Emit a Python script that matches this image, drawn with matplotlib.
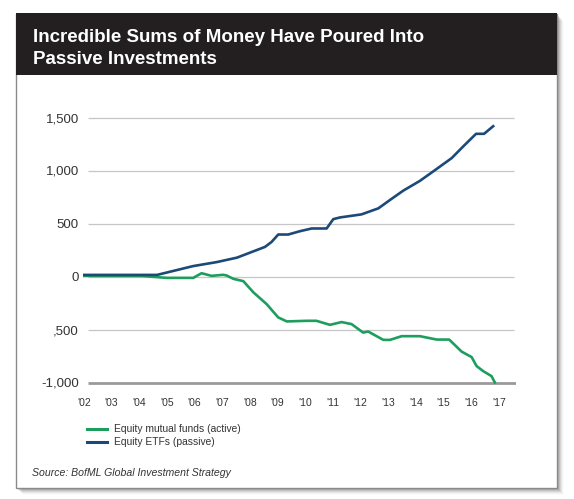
import matplotlib
matplotlib.use("Agg")
import matplotlib.pyplot as plt
from matplotlib.patches import Rectangle
from matplotlib.lines import Line2D

plt.rcParams['font.family'] = ['Liberation Sans', 'DejaVu Sans']

# ---- data ----
title_lines = ["Incredible Sums of Money Have Poured Into", "Passive Investments"]
source_text = "Source: BofML Global Investment Strategy"
series_names = ["Equity mutual funds (active)", "Equity ETFs (passive)"]

mf_years = [2002.0, 2004.1, 2004.99, 2005.95, 2006.25, 2006.61, 2007.03, 2007.15, 2007.4,
            2007.76, 2008.12, 2008.6, 2009.02, 2009.33, 2010.05, 2010.4, 2010.89, 2011.31,
            2011.67, 2012.09, 2012.27, 2012.82, 2013.06, 2013.48, 2014.14, 2014.75, 2015.2,
            2015.65, 2016.01, 2016.19, 2016.43, 2016.73, 2016.85]
mf_vals = [5, 5, -13, -13, 31, 6, 16, 10, -22, -44, -149, -260, -386, -424, -418, -418,
           -456, -430, -449, -529, -519, -598, -598, -563, -563, -595, -595, -709, -760,
           -845, -893, -940, -1000]

etf_years = [2002.0, 2004.64, 2005.94, 2006.8, 2007.53, 2007.9, 2008.54, 2008.78, 2009.02,
             2009.38, 2009.8, 2010.23, 2010.77, 2011.01, 2011.25, 2012.03, 2012.64, 2013.06,
             2013.54, 2014.14, 2014.62, 2015.29, 2015.71, 2016.17, 2016.46, 2016.79]
etf_vals = [15, 15, 98, 136, 178, 215, 279, 326, 396, 396, 427, 453, 453, 541, 557, 586, 643,
            722, 810, 902, 991, 1117, 1228, 1346, 1346, 1418]

y_ticks = [-1000, -500, 0, 500, 1000, 1500]
y_tick_labels = ["-1,000", ",500", "0", "500", "1,000", "1,500"]
x_ticks = list(range(2002, 2018))
x_tick_labels = ["'%02d" % (y % 100) for y in x_ticks]

# ---- styling ----
GREEN = "#1e9e5e"
BLUE = "#1c4a78"
HEADER = "#231f20"
TEXT = "#333333"

W, H = 574, 499
fig = plt.figure(figsize=(W / 100, H / 100), dpi=100)
fig.patch.set_facecolor("white")


def fx(x):
    return x / W


def fy(y):
    return 1 - y / H


def rect(x0, y0, x1, y1, **kw):
    r = Rectangle((fx(x0), fy(y1)), fx(x1) - fx(x0), fy(y0) - fy(y1),
                  transform=fig.transFigure, **kw)
    fig.patches.append(r)
    return r


# card shadow
for i, a in enumerate([0.14, 0.11, 0.09, 0.07, 0.05, 0.03, 0.015]):
    d = i + 1
    rect(15.5 + d, 13.5 + d, 557 + d, 488 + d, facecolor="black", alpha=a,
         edgecolor="none", zorder=0)
# card
rect(15.5, 13.5, 557, 488, facecolor="white", edgecolor="#8a8a8a", linewidth=1.0, zorder=1)
# header bar
rect(15.5, 13.5, 557, 75, facecolor=HEADER, edgecolor="none", zorder=2)

fig.text(fx(33), fy(42), title_lines[0], color="white", fontsize=13.5, fontweight="bold",
         va="baseline", ha="left", zorder=3)
fig.text(fx(33), fy(64), title_lines[1], color="white", fontsize=13.5, fontweight="bold",
         va="baseline", ha="left", zorder=3)

# ---- axes ----
ax_l, ax_r, ax_t, ax_b = 83, 516, 110, 390
ax = fig.add_axes([fx(ax_l), fy(ax_b), fx(ax_r) - fx(ax_l), fy(ax_t) - fy(ax_b)], zorder=3)
ax.patch.set_alpha(0)

px_per_year = (499 - 84) / 15.0
x0 = 2002 - (84 - ax_l) / px_per_year
x1 = 2002 + (ax_r - 84) / px_per_year
px_per_unit = (382.5 - 117.5) / 2500.0
y1 = 1500 + (117.5 - ax_t) / px_per_unit
y0 = -1000 - (ax_b - 382.5) / px_per_unit
ax.set_xlim(x0, x1)
ax.set_ylim(y0, y1)

grid_start = 2002 + (88 - 84) / px_per_year
grid_end = 2002 + (514 - 84) / px_per_year
ax.hlines([t for t in y_ticks if t != -1000], grid_start, grid_end, color="#c6c6c6",
          linewidth=0.9, zorder=1)
ax.hlines([-1000], grid_start, 2002 + (516 - 84) / px_per_year, color="#9a9a9a",
          linewidth=2.0, zorder=1)

ax.plot(mf_years, mf_vals, color=GREEN, linewidth=1.9, solid_joinstyle="round", zorder=3)
ax.plot(etf_years, etf_vals, color=BLUE, linewidth=1.9, solid_joinstyle="round", zorder=3)

for s in ax.spines.values():
    s.set_visible(False)
ax.set_yticks(y_ticks)
ax.set_yticklabels(y_tick_labels, fontsize=9.5, color=TEXT)
ax.set_xticks(x_ticks)
ax.set_xticklabels(x_tick_labels, fontsize=7.5, color=TEXT)
ax.tick_params(axis="y", length=0, pad=3)
ax.tick_params(axis="x", length=0, pad=6)

# ---- legend ----
for i, (name, col) in enumerate(zip(series_names, [GREEN, BLUE])):
    yy = 429 + 13 * i
    fig.lines.append(Line2D([fx(87), fx(107)], [fy(yy), fy(yy)], color=col, linewidth=2.2,
                            transform=fig.transFigure, zorder=4))
    fig.text(fx(114), fy(yy), name, fontsize=7.4, color=TEXT, va="center", ha="left", zorder=4)

fig.text(fx(32), fy(476), source_text, fontsize=7.6, style="italic", color=TEXT,
         va="baseline", ha="left", zorder=4)

fig.savefig("out.png", dpi=100)
